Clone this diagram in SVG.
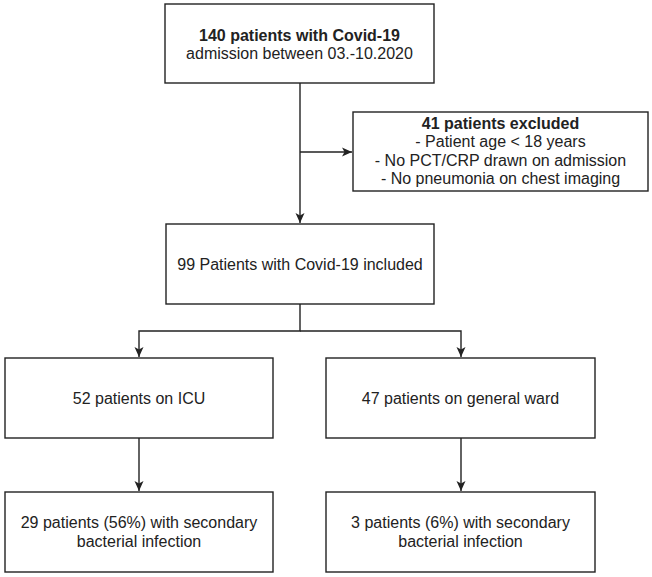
<svg xmlns="http://www.w3.org/2000/svg" width="652" height="577" viewBox="0 0 652 577">
<defs>
<style>
.box{fill:#ffffff;stroke:#222222;stroke-width:1.4}
.edge{fill:none;stroke:#222222;stroke-width:1.4}
text{font-family:"Liberation Sans",Arial,Helvetica,sans-serif;font-size:16px;fill:#222222;text-anchor:middle}
.b{font-weight:bold}
</style>
<marker id="arr" viewBox="0 0 10 10" refX="10" refY="5" markerWidth="10" markerHeight="10" markerUnits="userSpaceOnUse" orient="auto">
<path d="M0,0.5 L10,5 L0,9.5 L2.5,5 Z" fill="#222222"/>
</marker>
</defs>
<rect width="652" height="577" fill="#ffffff"/>
<g id="connectors">
<path class="edge" d="M300,83 V223" marker-end="url(#arr)"/>
<path class="edge" d="M300,152 H352" marker-end="url(#arr)"/>
<path class="edge" d="M300,304 V331 H139 V357" marker-end="url(#arr)"/>
<path class="edge" d="M300,331 H461 V357" marker-end="url(#arr)"/>
<path class="edge" d="M139,438 V491" marker-end="url(#arr)"/>
<path class="edge" d="M461,438 V491" marker-end="url(#arr)"/>
</g>
<g id="n-start">
<rect class="box" x="165" y="4" width="269" height="79"/>
<text x="299.5" y="41" class="b">140 patients with Covid-19</text>
<text x="299.5" y="59">admission between 03.-10.2020</text>
</g>
<g id="n-excluded">
<rect class="box" x="353" y="112" width="295" height="79"/>
<text x="500.5" y="129" class="b">41 patients excluded</text>
<text x="500.5" y="147">- Patient age &lt; 18 years</text>
<text x="500.5" y="165.5">- No PCT/CRP drawn on admission</text>
<text x="500.5" y="184">- No pneumonia on chest imaging</text>
</g>
<g id="n-included">
<rect class="box" x="166" y="224" width="268" height="80"/>
<text x="300" y="270">99 Patients with Covid-19 included</text>
</g>
<g id="n-icu">
<rect class="box" x="5" y="358" width="268" height="80"/>
<text x="139" y="404">52 patients on ICU</text>
</g>
<g id="n-ward">
<rect class="box" x="326" y="358" width="269" height="80"/>
<text x="460.5" y="404">47 patients on general ward</text>
</g>
<g id="n-icu-infection">
<rect class="box" x="5" y="492" width="268" height="80"/>
<text x="139" y="528">29 patients (56%) with secondary</text>
<text x="139" y="546.5">bacterial infection</text>
</g>
<g id="n-ward-infection">
<rect class="box" x="326" y="492" width="269" height="80"/>
<text x="460.5" y="528">3 patients (6%) with secondary</text>
<text x="460.5" y="546.5">bacterial infection</text>
</g>
</svg>
